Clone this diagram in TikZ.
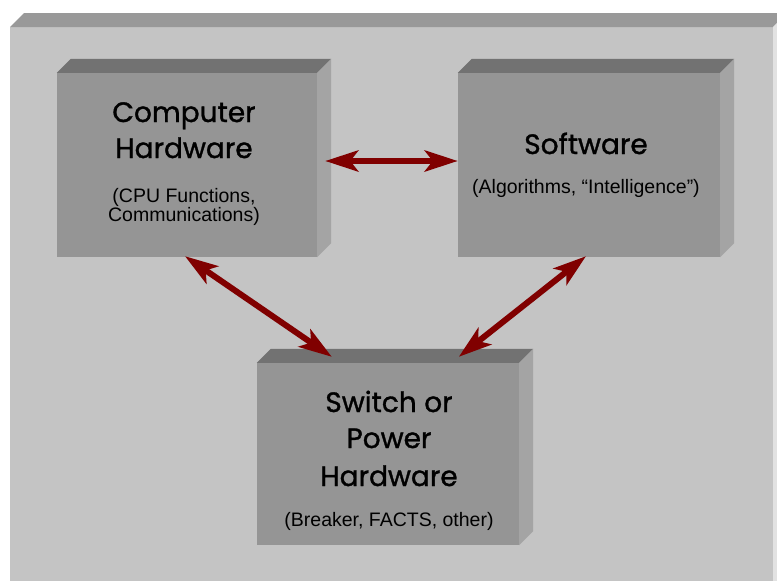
\documentclass[tikz,border=0pt]{standalone}
\usepackage{fontspec}
\setmainfont{Liberation Sans}
\newfontfamily\titlefont[FakeBold=1.2]{Poppins}
\usetikzlibrary{arrows.meta,calc}
\definecolor{bgfront}{HTML}{C4C4C4}
\definecolor{bgtop}{HTML}{999999}
\definecolor{bgside}{HTML}{E2E2E2}
\definecolor{boxfront}{HTML}{959595}
\definecolor{boxtop}{HTML}{727272}
\definecolor{boxside}{HTML}{A4A4A4}
\definecolor{arrowred}{HTML}{800000}
\begin{document}
\begin{tikzpicture}[x=1pt,y=-1pt,
  block/.style={fill=boxfront, inner sep=0pt},
  title/.style={font=\titlefont\fontsize{28}{34}\selectfont, anchor=base, inner sep=0pt},
  sub/.style={font=\fontsize{19.5}{22}\selectfont, anchor=base, inner sep=0pt},
  link/.style={draw=arrowred, line width=6pt,
    {Stealth[length=33pt,width=21pt,inset=8pt]}-{Stealth[length=33pt,width=21pt,inset=8pt]}}]
\useasboundingbox (0,0) rectangle (777,581);
\fill[white] (0,0) rectangle (777,581);
\clip (0,0) rectangle (777,581);

% raised panel behind everything
\fill[bgfront] (10,27) rectangle (773,600);
\fill[bgtop] (10,27) -- (24,13) -- (787,13) -- (773,27) -- cycle;
\fill[bgside] (773,27) -- (787,13) -- (787,600) -- (773,600) -- cycle;

% front faces of the three blocks
\node[block, minimum width=260pt, minimum height=184pt] (ch) at (187,165) {};
\node[block, minimum width=262pt, minimum height=184pt] (sw) at (589,165) {};
\node[block, minimum width=262pt, minimum height=182pt] (ph) at (388,454) {};

% top and right faces
\foreach \b in {ch,sw,ph} {
  \fill[boxtop] (\b.north west) -- ++(14,-14) -- ($(\b.north east)+(14,-14)$) -- (\b.north east) -- cycle;
  \fill[boxside] (\b.north east) -- ++(14,-14) -- ($(\b.south east)+(14,-14)$) -- (\b.south east) -- cycle;
}

% labels
\node[title] (cht1) at (184,122) {Computer};
\node[title] (cht2) at (184,158) {Hardware};
\node[sub] (chs1) at (184,202) {(CPU Functions,};
\node[sub] (chs2) at (184,221) {Communications)};
\node[title] (swt) at (586,154) {Software};
\node[sub] (sws) at (586,193) {(Algorithms, “Intelligence”)};
\node[title] (pht1) at (389,412) {Switch or};
\node[title] (pht2) at (389,448) {Power};
\node[title] (pht3) at (389,486) {Hardware};
\node[sub] (phs) at (389,526) {(Breaker, FACTS, other)};

% connector ends
\coordinate (a1) at ($(ch.east)+(8,-4)$);
\coordinate (a2) at ($(sw.west)+(0,-4)$);
\coordinate (b1) at ($(ch.south)+(-2,-1)$);
\coordinate (b2) at ($(ph.north west)+(75,-6)$);
\coordinate (c1) at ($(sw.south)+(-3,-1)$);
\coordinate (c2) at ($(ph.north west)+(202,-6)$);

% connectors
\draw[link] (a1) -- (a2);
\draw[link] (b1) -- (b2);
\draw[link] (c1) -- (c2);
\end{tikzpicture}
\end{document}
